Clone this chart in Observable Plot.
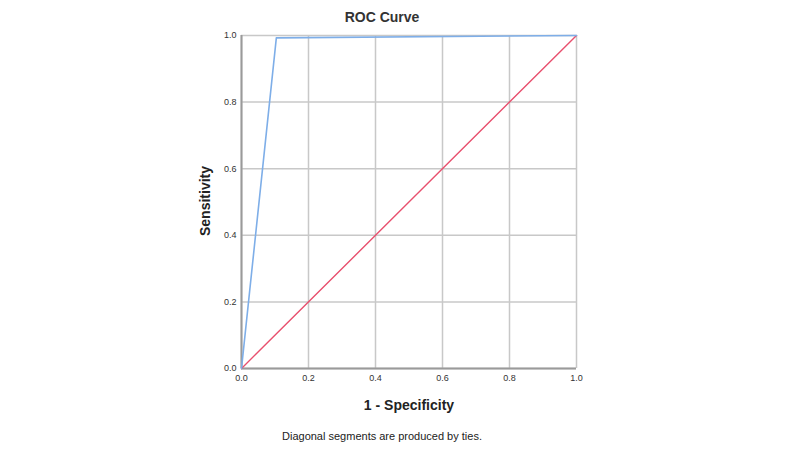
<!DOCTYPE html>
<html><head><meta charset="utf-8">
<script src="https://cdn.jsdelivr.net/npm/d3@7"></script>
<script src="https://cdn.jsdelivr.net/npm/@observablehq/plot@0.6"></script>
<style>
body{margin:0;background:#fff;font-family:Arial,"Liberation Sans",sans-serif;}
#wrap{position:relative;width:800px;height:452px;}
.t{position:absolute;text-align:center;color:#222;white-space:nowrap;}
</style></head><body>
<div id="wrap"></div>
<script>
const rocX = [0, 0.104, 1];
const rocY = [0, 0.993, 1];
const refX = [0, 1];
const refY = [0, 1];
const ticks = [0, 0.2, 0.4, 0.6, 0.8, 1.0];

const roc = rocX.map((x, i) => ({x, y: rocY[i]}));
const ref = refX.map((x, i) => ({x, y: refY[i]}));

const chart = Plot.plot({
  width: 800, height: 452,
  marginLeft: 241, marginRight: 224, marginTop: 35, marginBottom: 84,
  style: {fontFamily: "Arial, 'Liberation Sans', sans-serif", fontSize: "9px", color: "#333", background: "#fff"},
  x: {domain: [0, 1], ticks, tickFormat: d3.format(".1f"), label: null, tickSize: 0, tickPadding: 6},
  y: {domain: [0, 1], ticks, tickFormat: d3.format(".1f"), label: null, tickSize: 0, tickPadding: 5},
  marks: [
    Plot.gridX(ticks, {stroke: "#c8c8c8", strokeOpacity: 1, strokeWidth: 1.5}),
    Plot.gridY(ticks, {stroke: "#c8c8c8", strokeOpacity: 1, strokeWidth: 1.5}),
    Plot.ruleX([0], {stroke: "#9a9a9a", strokeWidth: 2}),
    Plot.ruleY([0], {stroke: "#9a9a9a", strokeWidth: 2}),
    Plot.axisX({ticks, tickFormat: d3.format(".1f"), tickSize: 0, tickPadding: 6, label: null}),
    Plot.axisY({ticks, tickFormat: d3.format(".1f"), tickSize: 0, tickPadding: 5, label: null}),
    Plot.line(ref, {x: "x", y: "y", stroke: "#e8506e", strokeWidth: 1.4}),
    Plot.line(roc, {x: "x", y: "y", stroke: "#7eaee8", strokeWidth: 1.6})
  ]
});
const wrap = document.getElementById("wrap");
wrap.appendChild(chart);

function addText(txt, css) {
  const d = document.createElement("div");
  d.className = "t";
  d.textContent = txt;
  Object.assign(d.style, css);
  wrap.appendChild(d);
  return d;
}
addText("ROC Curve", {left: "282px", width: "200px", top: "9px", fontSize: "14px", fontWeight: "bold", color: "#333"});
addText("1 - Specificity", {left: "309px", width: "200px", top: "397px", fontSize: "14px", fontWeight: "bold", color: "#222"});
addText("Diagonal segments are produced by ties.", {left: "232px", width: "300px", top: "430px", fontSize: "11px", color: "#222"});
addText("Sensitivity", {left: "155px", width: "100px", top: "193px", fontSize: "14px", fontWeight: "bold", color: "#222", transform: "rotate(-90deg)"});
</script>
</body></html>
